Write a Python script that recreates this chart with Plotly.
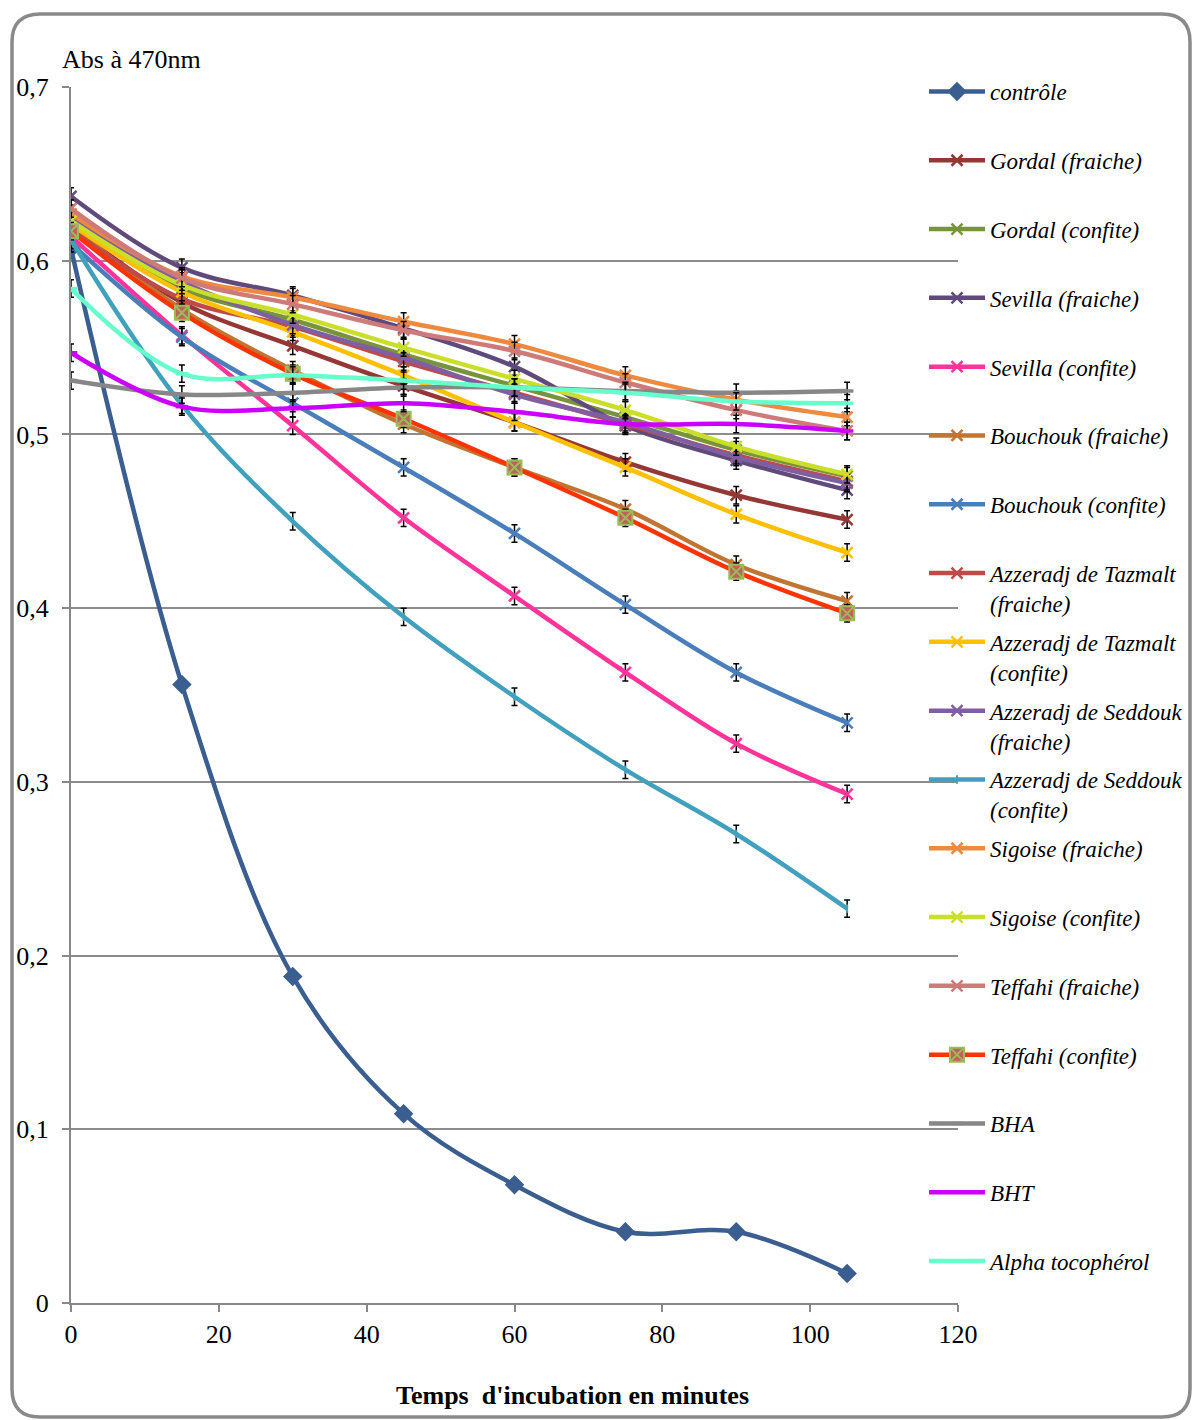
import plotly.graph_objects as go

# ---------------- data ----------------
temps = [0, 15, 30, 45, 60, 75, 90, 105]

series_names = [
    "contrôle", "Gordal (fraiche)", "Gordal (confite)", "Sevilla (fraiche)",
    "Sevilla (confite)", "Bouchouk (fraiche)", "Bouchouk (confite)",
    "Azzeradj de Tazmalt<br>(fraiche)", "Azzeradj de Tazmalt<br>(confite)",
    "Azzeradj de Seddouk<br>(fraiche)", "Azzeradj de Seddouk<br>(confite)",
    "Sigoise (fraiche)", "Sigoise (confite)", "Teffahi (fraiche)",
    "Teffahi (confite)", "BHA", "BHT", "Alpha tocophérol",
]

controle        = [0.607, 0.356, 0.188, 0.109, 0.068, 0.041, 0.041, 0.017]
gordal_f        = [0.620, 0.576, 0.551, 0.528, 0.507, 0.484, 0.465, 0.451]
gordal_c        = [0.622, 0.584, 0.566, 0.546, 0.528, 0.510, 0.491, 0.476]
sevilla_f       = [0.637, 0.596, 0.580, 0.561, 0.539, 0.505, 0.485, 0.468]
sevilla_c       = [0.614, 0.557, 0.505, 0.452, 0.407, 0.363, 0.322, 0.293]
bouchouk_f      = [0.620, 0.572, 0.537, 0.506, 0.481, 0.457, 0.425, 0.404]
bouchouk_c      = [0.610, 0.556, 0.518, 0.481, 0.443, 0.402, 0.363, 0.334]
tazmalt_f       = [0.618, 0.578, 0.562, 0.542, 0.524, 0.506, 0.488, 0.473]
tazmalt_c       = [0.621, 0.582, 0.559, 0.534, 0.507, 0.481, 0.454, 0.432]
seddouk_f       = [0.625, 0.588, 0.563, 0.544, 0.523, 0.507, 0.487, 0.472]
seddouk_c       = [0.612, 0.517, 0.450, 0.395, 0.349, 0.307, 0.270, 0.227]
sigoise_f       = [0.627, 0.591, 0.579, 0.565, 0.552, 0.534, 0.520, 0.510]
sigoise_c       = [0.623, 0.586, 0.569, 0.550, 0.532, 0.514, 0.493, 0.477]
teffahi_f       = [0.630, 0.590, 0.575, 0.560, 0.548, 0.530, 0.514, 0.502]
teffahi_c       = [0.617, 0.570, 0.535, 0.509, 0.481, 0.452, 0.421, 0.397]
bha             = [0.531, 0.523, 0.524, 0.527, 0.527, 0.525, 0.524, 0.525]
bht             = [0.547, 0.516, 0.515, 0.518, 0.513, 0.506, 0.506, 0.502]
alpha_toco      = [0.584, 0.535, 0.534, 0.531, 0.527, 0.524, 0.519, 0.518]

all_values = [controle, gordal_f, gordal_c, sevilla_f, sevilla_c, bouchouk_f,
              bouchouk_c, tazmalt_f, tazmalt_c, seddouk_f, seddouk_c,
              sigoise_f, sigoise_c, teffahi_f, teffahi_c, bha, bht, alpha_toco]

x_ticks = [0, 20, 40, 60, 80, 100, 120]
y_ticks = [0, 0.1, 0.2, 0.3, 0.4, 0.5, 0.6, 0.7]

# ---------------- styles ----------------
line_colors = ["#3B5E91", "#953735", "#77933C", "#604A7B", "#FF3399", "#C27433",
               "#4A7EBB", "#BE4B48", "#FFC000", "#7F5FA1", "#41A0BE", "#EE8A40",
               "#C9DF2A", "#CD7A78", "#FF3300", "#878787", "#CC00FF", "#66FFCC"]
marker_styles = [
    dict(symbol="diamond", size=15, color="#3B5E91"),
    dict(symbol="x-thin-open", size=11, line=dict(color="#953735", width=2.5)),
    dict(symbol="x-thin-open", size=11, line=dict(color="#77933C", width=2.5)),
    dict(symbol="x-thin-open", size=11, line=dict(color="#604A7B", width=2.5)),
    dict(symbol="x-thin-open", size=11, line=dict(color="#31859C", width=2.5)),
    dict(symbol="x-thin-open", size=11, line=dict(color="#C27433", width=2.5)),
    dict(symbol="x-thin-open", size=11, line=dict(color="#4A7EBB", width=2.5)),
    dict(symbol="x-thin-open", size=11, line=dict(color="#BE4B48", width=2.5)),
    dict(symbol="x-thin-open", size=11, line=dict(color="#9BBB59", width=2.5)),
    dict(symbol="x-thin-open", size=11, line=dict(color="#7F5FA1", width=2.5)),
    dict(symbol="line-ns-open", size=6, line=dict(color="#41A0BE", width=2)),
    dict(symbol="x-thin-open", size=11, line=dict(color="#EE8A40", width=2.5)),
    dict(symbol="x-thin-open", size=11, line=dict(color="#7F9ACD", width=2.5)),
    dict(symbol="x-thin-open", size=11, line=dict(color="#CD7A78", width=2.5)),
    dict(symbol="square-x", size=14, color="#C0625A", line=dict(color="#9BBB59", width=2)),
    dict(symbol="line-ew-open", size=9, line=dict(color="#8064A2", width=3.5)),
    dict(symbol="line-ew-open", size=9, line=dict(color="#4BACC6", width=3.5)),
    dict(symbol="line-ew-open", size=9, line=dict(color="#F79646", width=3.5)),
]

fig = go.Figure()
for i, (name, vals) in enumerate(zip(series_names, all_values)):
    label = name if "<br>" in name else name + "<br>\u00a0"
    err = None
    if i != 0:
        err = dict(type="constant", value=0.005, color="black", thickness=1.5, width=3)
    fig.add_trace(go.Scatter(
        x=temps, y=vals, name=label, legendgroup=f"g{i:02d}",
        mode="lines+markers",
        line=dict(color=line_colors[i], width=4.5, shape="spline", smoothing=1),
        marker=marker_styles[i],
        error_y=err,
    ))

# plot-area pixel geometry (figure 1192 x 1420)
L, R, T, B = 71, 958, 87, 1303
W, H = R - L, B - T


def paper(px, py):
    return (px - L) / W, (B - py) / H


# rounded outer border
bx0, by0, bx1, by1, rad = 12, 14, 1190, 1417, 28


def P(px, py):
    x, y = paper(px, py)
    return f"{x:.5f},{y:.5f}"


path = (f"M {P(bx0 + rad, by0)} L {P(bx1 - rad, by0)} Q {P(bx1, by0)} {P(bx1, by0 + rad)} "
        f"L {P(bx1, by1 - rad)} Q {P(bx1, by1)} {P(bx1 - rad, by1)} "
        f"L {P(bx0 + rad, by1)} Q {P(bx0, by1)} {P(bx0, by1 - rad)} "
        f"L {P(bx0, by0 + rad)} Q {P(bx0, by0)} {P(bx0 + rad, by0)} Z")

font_family = "Liberation Serif, Times New Roman, serif"

ax_x, ax_y = paper(60, 59)
tx_x, tx_y = paper(572, 1395)
lg_x, lg_y = paper(924, 70)

fig.update_layout(
    width=1192, height=1420,
    margin=dict(l=L, r=1192 - R, t=T, b=1420 - B, autoexpand=False),
    paper_bgcolor="white", plot_bgcolor="white",
    separators=", ",
    font=dict(family=font_family, size=26, color="black"),
    shapes=[dict(type="path", xref="paper", yref="paper", path=path,
                 line=dict(color="#8A8A8A", width=3.5), layer="above")],
    annotations=[
        dict(text="Abs à 470nm", xref="paper", yref="paper", x=ax_x, y=ax_y,
             xanchor="left", yanchor="middle", showarrow=False,
             font=dict(family=font_family, size=26, color="black")),
        dict(text="<b>Temps\u00a0 d'incubation en minutes</b>", xref="paper", yref="paper",
             x=tx_x, y=tx_y, xanchor="center", yanchor="middle", showarrow=False,
             font=dict(family=font_family, size=26, color="black")),
    ],
    legend=dict(x=lg_x, y=lg_y, xanchor="left", yanchor="top",
                font=dict(family=font_family, size=23, color="black", style="italic"),
                valign="top", tracegroupgap=6, itemwidth=56, maxheight=1400,
                bgcolor="rgba(0,0,0,0)", borderwidth=0, traceorder="grouped"),
    showlegend=True,
)
fig.update_xaxes(range=[0, 120], tickvals=x_ticks, showgrid=False, zeroline=False,
                 showline=True, linecolor="#888888", linewidth=2,
                 ticks="outside", ticklen=7, tickcolor="#888888", tickwidth=2,
                 ticklabelstandoff=0, tickfont=dict(size=26))
fig.update_yaxes(range=[0, 0.7], tickvals=y_ticks, showgrid=True, gridcolor="#8C8C8C",
                 gridwidth=1.5, zeroline=False,
                 showline=True, linecolor="#888888", linewidth=2,
                 ticks="outside", ticklen=7, tickcolor="#888888", tickwidth=2,
                 ticklabelstandoff=8, tickfont=dict(size=26))

fig.write_html("out.html")
